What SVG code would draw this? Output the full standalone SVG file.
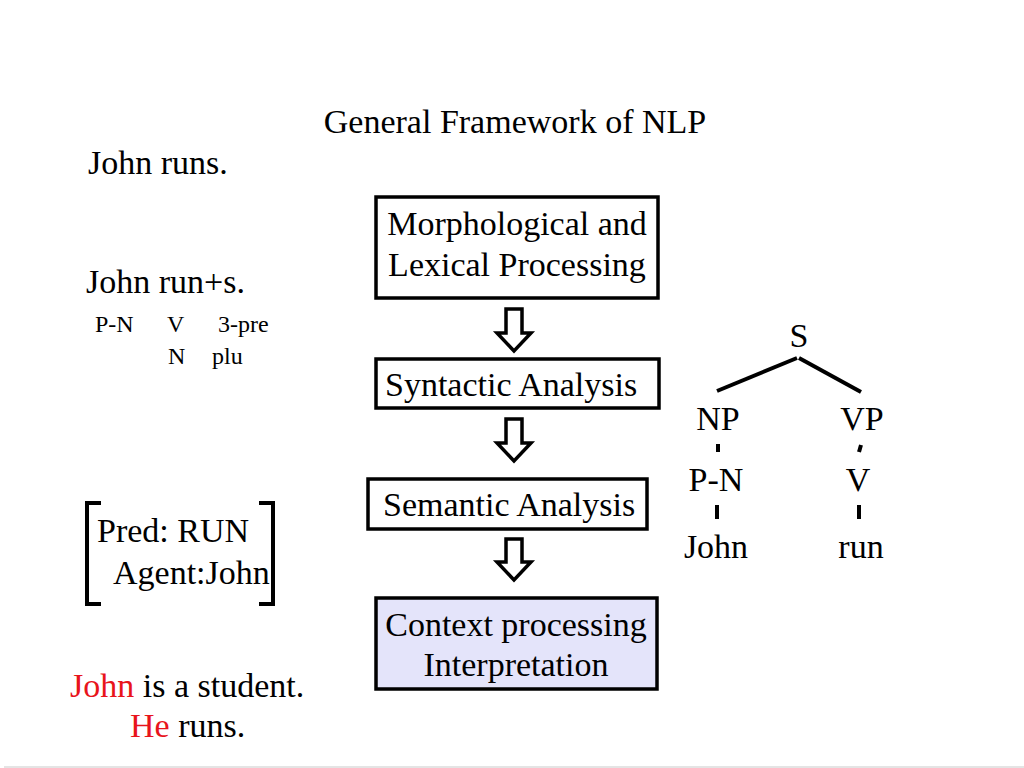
<svg xmlns="http://www.w3.org/2000/svg" width="1024" height="768" viewBox="0 0 1024 768">
<style>
text { font-family: "Liberation Serif", "Times New Roman", serif; fill: #000; }
.t28 { font-size: 34px; }
.t20 { font-size: 24px; }
.box { fill: #fff; stroke: #000; stroke-width: 3.5; }
.ctx { fill: #e4e4fa; stroke: #000; stroke-width: 3.5; }
.arr { fill: #fff; stroke: #000; stroke-width: 3.5; stroke-linejoin: miter; }
.ln { stroke: #000; stroke-width: 4; fill: none; }
.red { fill: #e8141b; }
</style>
<rect x="0" y="0" width="1024" height="768" fill="#fff"/>
<line x1="4" y1="767" x2="1024" y2="767" stroke="#e4e4e4" stroke-width="2"/>

<text class="t28" x="515" y="133" text-anchor="middle">General Framework of NLP</text>

<g id="left-text">
<text class="t28" x="88" y="174">John runs.</text>
<text class="t28" x="86" y="293">John run+s.</text>
<text class="t20" x="95" y="332">P-N</text>
<text class="t20" x="167" y="332">V</text>
<text class="t20" x="218" y="332">3-pre</text>
<text class="t20" x="168" y="364">N</text>
<text class="t20" x="212" y="364">plu</text>
</g>

<g id="frame">
<path class="ln" d="M101,503 H87 V604 H101"/>
<path class="ln" d="M259,503 H273 V604 H259"/>
<text class="t28" x="97" y="542">Pred: RUN</text>
<text class="t28" x="113" y="584">Agent:John</text>
</g>

<g id="discourse">
<text class="t28" x="70" y="697"><tspan class="red">John</tspan> is a student.</text>
<text class="t28" x="130" y="737"><tspan class="red">He</tspan> runs.</text>
</g>

<g id="node-morph">
<rect class="box" x="376" y="197" width="282" height="101"/>
<text class="t28" x="517" y="235" text-anchor="middle">Morphological and</text>
<text class="t28" x="517" y="276" text-anchor="middle">Lexical Processing</text>
</g>
<g id="node-syntactic">
<rect class="box" x="376" y="359" width="283" height="49"/>
<text class="t28" x="385" y="396">Syntactic Analysis</text>
</g>
<g id="node-semantic">
<rect class="box" x="368" y="479" width="279" height="50"/>
<text class="t28" x="383" y="516">Semantic Analysis</text>
</g>
<g id="node-context">
<rect class="ctx" x="376" y="598" width="281" height="91"/>
<text class="t28" x="516" y="636" text-anchor="middle">Context processing</text>
<text class="t28" x="516" y="676" text-anchor="middle">Interpretation</text>
</g>

<g id="connectors">
<path class="arr" d="M506,309 H522 V333 H531 L514,351 L497,333 H506 Z"/>
<path class="arr" d="M506,419 H522 V443 H531 L514,461 L497,443 H506 Z"/>
<path class="arr" d="M506,539 H522 V562 H531 L514,580 L497,562 H506 Z"/>
</g>

<g id="tree">
<text class="t28" x="799" y="347" text-anchor="middle">S</text>
<line class="ln" x1="717" y1="391" x2="797" y2="358"/>
<line class="ln" x1="799" y1="358" x2="861" y2="392"/>
<text class="t28" x="718" y="430" text-anchor="middle">NP</text>
<text class="t28" x="862" y="430" text-anchor="middle">VP</text>
<line class="ln" x1="718" y1="444" x2="718" y2="452"/>
<line class="ln" x1="861" y1="445" x2="859" y2="452"/>
<text class="t28" x="716" y="491" text-anchor="middle">P-N</text>
<text class="t28" x="858" y="491" text-anchor="middle">V</text>
<line class="ln" x1="717" y1="505" x2="717" y2="519"/>
<line class="ln" x1="859" y1="505" x2="859" y2="519"/>
<text class="t28" x="716" y="558" text-anchor="middle">John</text>
<text class="t28" x="861" y="558" text-anchor="middle">run</text>
</g>
</svg>
